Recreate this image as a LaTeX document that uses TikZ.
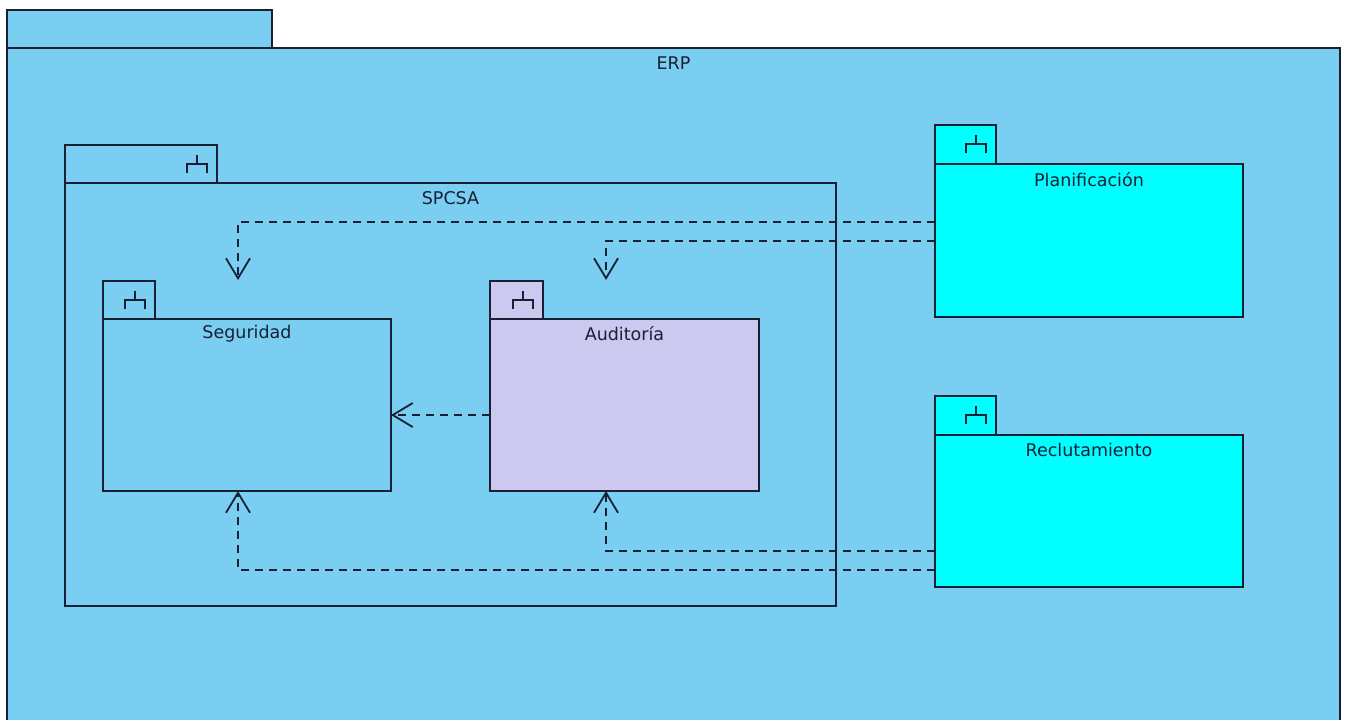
\documentclass[tikz,border=0pt]{standalone}
\usepackage{fontspec}
\setmainfont{DejaVu Sans}
\usetikzlibrary{arrows.meta,calc}
\definecolor{erpblue}{RGB}{122,206,242}
\definecolor{pkgcyan}{RGB}{0,255,255}
\definecolor{pkglav}{RGB}{204,200,240}
\definecolor{ink}{RGB}{24,32,52}
\tikzset{
  pkg/.style={draw=ink, line width=1.8pt, inner sep=0pt, outer sep=0pt, anchor=north west, rectangle},
  pkglabel/.style={text=ink, font=\fontsize{17.5}{20}\selectfont, anchor=center, inner sep=0pt},
  dep/.style={draw=ink, line width=2pt, dash pattern=on 8pt off 6pt,
    -{Straight Barb[length=20pt,width=24pt,line width=1.8pt]}},
  icon/.style={draw=ink, line width=1.6pt}
}
\newcommand{\pkgicon}[1]{%
  \draw[icon] ($(#1.north east)+(-30,28)$) -- ($(#1.north east)+(-30,19)$) -- ($(#1.north east)+(-10,19)$) -- ($(#1.north east)+(-10,28)$);
  \draw[icon] ($(#1.north east)+(-20,19)$) -- ($(#1.north east)+(-20,10)$);
}
\begin{document}
\begin{tikzpicture}[x=1pt,y=-1pt]
\useasboundingbox (0,0) rectangle (1347,720);
\fill[white] (0,0) rectangle (1347,720);
% ERP
\node[pkg, fill=erpblue, minimum width=265pt, minimum height=38pt] (erptab) at (7,10) {};
\node[pkg, fill=erpblue, minimum width=1333pt, minimum height=690pt] (erp) at (7,48) {};
\node[pkglabel] (erplabel) at ($(erp.north)+(0,15)$) {ERP};
% SPCSA
\node[pkg, fill=erpblue, minimum width=152pt, minimum height=38pt] (spcsatab) at (65,145) {};
\node[pkg, fill=erpblue, minimum width=771pt, minimum height=423pt] (spcsa) at (65,183) {};
\node[pkglabel] (spcsalabel) at ($(spcsa.north)+(0,15)$) {SPCSA};
\pkgicon{spcsatab}
% Seguridad
\node[pkg, fill=erpblue, minimum width=52pt, minimum height=38pt] (segtab) at (103,281) {};
\node[pkg, fill=erpblue, minimum width=288pt, minimum height=172pt] (seg) at (103,319) {};
\node[pkglabel] (seglabel) at ($(seg.north)+(0,15)$) {Seguridad};
\pkgicon{segtab}
% Auditoria
\node[pkg, fill=pkglav, minimum width=53pt, minimum height=38pt] (audtab) at (490,281) {};
\node[pkg, fill=pkglav, minimum width=269pt, minimum height=172pt] (aud) at (490,319) {};
\node[pkglabel] (audlabel) at ($(aud.north)+(0,15)$) {Auditoría};
\pkgicon{audtab}
% Planificacion
\node[pkg, fill=pkgcyan, minimum width=61pt, minimum height=39pt] (plantab) at (935,125) {};
\node[pkg, fill=pkgcyan, minimum width=308pt, minimum height=153pt] (plan) at (935,164) {};
\node[pkglabel] (planlabel) at ($(plan.north)+(0,16)$) {Planificación};
\pkgicon{plantab}
% Reclutamiento
\node[pkg, fill=pkgcyan, minimum width=61pt, minimum height=39pt] (recltab) at (935,396) {};
\node[pkg, fill=pkgcyan, minimum width=308pt, minimum height=152pt] (recl) at (935,435) {};
\node[pkglabel] (recllabel) at ($(recl.north)+(0,15)$) {Reclutamiento};
\pkgicon{recltab}
% endpoints
\coordinate (segtop) at ($(seg.north)+(-9,-39)$);
\coordinate (audtop) at ($(aud.north)+(-18.5,-39)$);
% dependencies
\draw[dep] ($(plan.west)+(0,-18.5)$) -| (segtop);
\draw[dep] ($(plan.west)+(0,0.5)$) -| (audtop);
\draw[dep] ($(aud.west)+(0,10)$) -- ($(seg.east)+(0,10)$);
\draw[dep] ($(recl.west)+(0,40)$) -| ($(aud.south)+(-18.5,0)$);
\draw[dep] ($(recl.west)+(0,59)$) -| ($(seg.south)+(-9,0)$);
\end{tikzpicture}
\end{document}
